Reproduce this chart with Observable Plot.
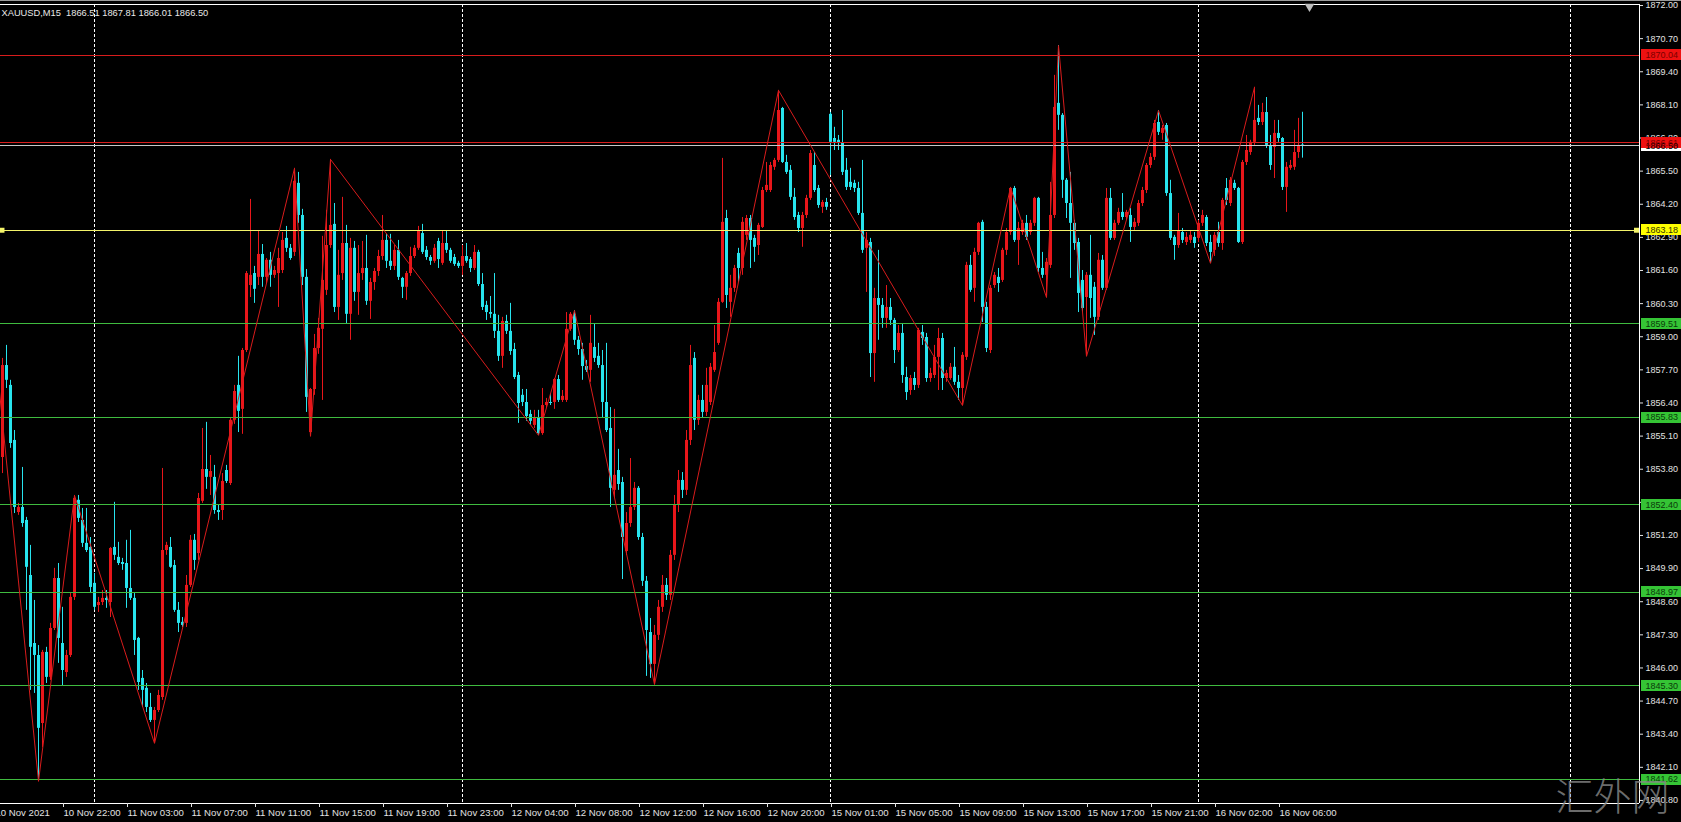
<!DOCTYPE html>
<html><head><meta charset="utf-8">
<script src="https://cdn.jsdelivr.net/npm/d3@7"></script>
<script src="https://cdn.jsdelivr.net/npm/@observablehq/plot@0.6"></script>
<style>
html,body{margin:0;padding:0;background:#000;overflow:hidden;}
#wrap{position:relative;width:1681px;height:822px;overflow:hidden;background:#000;}
#topline{position:absolute;left:0;top:0;width:1681px;height:1px;background:#9a9a9a;}
</style></head>
<body><div id="wrap"><div id="chart"></div><div id="topline"></div></div>
<script>
// ---------------- DATA ----------------
const symbol = "XAUUSD", timeframe = "M15";
const firstBar = -15;   // bar index of the first candle (bar 0 = 10 Nov 22:00, M15 bars)

const opens = [
1854.26,1857.87,1857.09,1854.93,1852.10,1852.30,1851.79,1849.63,1846.96,1846.49,
1843.82,1846.61,1845.63,1847.55,1849.51,1846.96,1845.82,1846.49,1848.77,1852.58,
1851.79,1850.89,1850.73,1849.32,1848.45,1848.57,1848.73,1848.57,1850.73,1850.34,
1850.14,1850.10,1849.12,1848.73,1847.16,1845.59,1845.20,1844.45,1843.94,1844.33,
1844.84,1850.61,1850.73,1850.02,1848.26,1847.79,1847.75,1849.24,1851.01,1850.49,
1852.54,1853.79,1853.48,1853.48,1852.18,1852.18,1853.75,1853.24,1855.72,1857.09,
1856.15,1858.46,1861.01,1861.48,1861.33,1862.23,1861.33,1862.00,1861.41,1861.48,
1861.60,1862.86,1862.47,1862.31,1865.02,1863.76,1861.33,1855.24,1856.93,1858.54,
1859.29,1860.82,1862.58,1863.41,1860.15,1861.48,1862.66,1859.88,1862.47,1860.74,
1861.48,1861.68,1860.39,1861.13,1861.56,1862.15,1862.78,1861.96,1861.76,1862.39,
1861.29,1860.94,1861.48,1862.15,1862.47,1863.05,1862.39,1862.11,1861.96,1862.74,
1861.88,1862.66,1862.39,1862.11,1861.88,1861.76,1862.15,1862.03,1861.68,1862.31,
1861.05,1860.23,1859.95,1859.88,1859.21,1858.23,1859.60,1859.21,1858.50,1857.48,
1856.70,1856.42,1855.95,1855.52,1855.83,1855.20,1856.30,1856.42,1856.42,1857.32,
1856.50,1856.50,1859.29,1859.88,1858.86,1858.50,1857.83,1857.68,1858.58,1858.23,
1857.87,1856.42,1855.40,1852.97,1853.75,1853.28,1850.57,1851.67,1852.30,1853.05,
1851.12,1849.40,1847.39,1846.14,1847.28,1848.38,1849.24,1848.85,1850.42,1852.38,
1853.36,1852.97,1854.93,1858.15,1855.72,1856.50,1856.03,1856.42,1857.68,1858.74,
1860.35,1863.64,1860.35,1860.90,1862.27,1861.68,1862.98,1863.64,1862.86,1862.58,
1863.29,1864.74,1864.74,1865.65,1865.92,1867.96,1865.84,1865.53,1864.47,1863.76,
1863.25,1863.76,1864.43,1865.72,1864.82,1864.08,1864.27,1867.73,1866.78,1866.71,
1866.59,1865.53,1865.06,1865.02,1864.82,1863.84,1862.47,1862.70,1858.34,1860.50,
1860.23,1859.72,1860.15,1859.64,1858.46,1859.13,1857.40,1856.89,1857.36,1857.09,
1859.17,1858.97,1857.36,1857.48,1858.19,1858.93,1857.36,1857.36,1857.80,1857.21,
1856.97,1858.19,1861.80,1860.90,1862.31,1863.49,1860.15,1858.46,1861.01,1861.33,
1861.21,1862.39,1863.09,1864.82,1862.78,1863.09,1863.45,1863.09,1863.45,1864.43,
1861.68,1861.41,1861.80,1863.76,1868.16,1867.69,1865.14,1864.23,1863.45,1862.70,
1861.21,1860.54,1861.41,1860.94,1859.76,1862.00,1860.90,1864.43,1862.86,1863.45,
1863.88,1863.68,1863.76,1863.29,1863.45,1864.23,1864.74,1865.72,1866.04,1867.41,
1866.98,1867.29,1864.62,1862.90,1862.58,1863.09,1862.70,1862.78,1862.90,1862.86,
1863.45,1863.68,1862.70,1862.39,1863.09,1862.66,1864.82,1864.23,1865.02,1864.82,
1862.70,1865.84,1866.23,1866.63,1867.57,1867.41,1867.80,1866.51,1866.43,1866.98,
1866.78,1864.86,1865.61,1865.65,1866.23,1866.51];

const highs = [
1858.15,1858.66,1857.29,1855.32,1852.46,1853.87,1851.91,1850.81,1848.65,1846.88,
1846.69,1846.81,1847.75,1849.91,1850.10,1848.38,1846.69,1848.92,1852.77,1852.77,
1852.26,1852.26,1851.12,1849.71,1848.77,1849.04,1849.04,1850.73,1852.50,1850.93,
1850.30,1851.01,1851.40,1848.92,1847.20,1845.90,1845.39,1845.00,1844.45,1845.12,
1853.83,1850.93,1851.12,1850.22,1848.57,1847.98,1849.63,1851.20,1851.24,1852.85,
1855.40,1855.64,1854.34,1853.95,1852.38,1853.63,1853.95,1855.79,1857.09,1858.23,
1858.54,1861.56,1864.39,1861.76,1863.17,1862.62,1862.07,1862.31,1861.76,1862.47,
1863.09,1863.33,1862.62,1865.61,1865.45,1864.00,1861.64,1856.97,1859.09,1859.72,
1862.94,1863.96,1865.96,1864.23,1862.39,1864.47,1863.37,1862.86,1862.74,1862.58,
1862.74,1862.98,1861.29,1861.68,1862.39,1863.76,1863.02,1863.02,1862.58,1862.78,
1861.33,1861.56,1862.51,1862.58,1863.33,1863.41,1862.54,1862.19,1862.62,1862.86,
1863.13,1863.13,1862.47,1862.23,1861.96,1862.58,1862.66,1862.11,1862.58,1862.39,
1861.48,1860.39,1860.58,1861.48,1859.84,1859.76,1859.84,1860.31,1858.74,1857.60,
1856.93,1856.93,1856.11,1856.11,1856.11,1856.97,1856.58,1856.77,1857.36,1857.48,
1856.89,1859.95,1859.95,1860.03,1859.01,1858.74,1858.07,1859.84,1859.48,1858.74,
1858.46,1858.74,1856.22,1856.15,1854.58,1853.48,1852.10,1854.22,1853.28,1853.12,
1851.28,1849.59,1847.94,1847.67,1848.65,1849.63,1849.51,1850.61,1852.77,1853.75,
1853.67,1855.32,1858.66,1858.38,1856.70,1857.09,1857.76,1857.95,1859.44,1860.50,
1866.00,1863.96,1861.41,1861.80,1862.47,1863.68,1863.76,1863.76,1862.98,1863.45,
1864.86,1865.84,1865.84,1866.00,1868.67,1868.00,1866.12,1865.72,1864.82,1863.88,
1863.88,1864.55,1866.31,1866.23,1864.94,1864.35,1864.43,1867.80,1867.22,1866.90,
1867.88,1866.00,1865.61,1865.14,1865.06,1865.92,1863.09,1862.86,1860.90,1862.39,
1860.50,1861.01,1860.50,1859.72,1859.44,1859.52,1857.80,1857.48,1857.60,1859.33,
1859.44,1859.13,1857.76,1858.66,1859.33,1859.13,1857.68,1857.95,1858.58,1857.48,
1858.38,1861.92,1862.19,1862.47,1863.49,1863.57,1860.35,1861.01,1861.52,1861.68,
1862.47,1863.25,1864.86,1864.90,1863.49,1863.57,1863.76,1863.57,1864.47,1864.47,
1862.31,1862.07,1865.06,1869.26,1870.43,1867.76,1865.21,1865.45,1863.57,1862.86,
1861.60,1861.52,1862.98,1861.13,1862.27,1862.19,1864.82,1864.82,1863.57,1864.04,
1864.62,1863.96,1864.04,1863.64,1864.35,1864.86,1865.80,1866.19,1867.49,1867.88,
1867.29,1867.37,1865.14,1862.98,1863.84,1863.25,1863.09,1863.17,1863.09,1863.57,
1863.96,1863.76,1862.98,1863.09,1863.49,1864.43,1865.21,1865.25,1865.14,1864.86,
1865.92,1866.90,1866.71,1868.79,1868.08,1868.16,1868.39,1866.90,1867.49,1867.49,
1866.82,1865.84,1865.92,1867.10,1867.57,1867.81];

const lows = [
1853.63,1856.97,1854.62,1852.06,1851.99,1851.52,1848.26,1845.12,1845.00,1841.55,
1842.88,1845.39,1845.51,1847.47,1846.18,1845.31,1845.63,1846.41,1848.65,1851.71,
1850.73,1850.53,1848.92,1848.26,1848.18,1848.45,1848.34,1847.98,1850.22,1850.02,
1849.83,1848.34,1848.65,1846.49,1845.12,1844.45,1844.25,1843.86,1843.04,1844.25,
1844.73,1850.42,1849.91,1848.18,1847.39,1847.59,1847.59,1849.16,1849.83,1850.22,
1852.46,1853.01,1852.77,1852.03,1851.79,1851.79,1853.24,1853.16,1855.56,1855.24,
1855.17,1858.38,1860.54,1860.31,1861.01,1860.94,1861.09,1860.94,1861.29,1860.15,
1861.48,1862.31,1862.00,1862.15,1863.45,1861.01,1856.03,1855.09,1856.70,1858.31,
1856.50,1860.62,1862.47,1859.95,1859.64,1861.21,1859.52,1858.86,1860.39,1859.84,
1861.21,1860.23,1859.68,1860.82,1861.37,1862.00,1861.68,1861.60,1861.60,1861.21,
1860.50,1860.43,1861.37,1862.07,1862.39,1862.23,1862.00,1861.80,1861.88,1861.68,
1861.80,1862.27,1861.88,1861.76,1861.68,1861.41,1861.88,1861.52,1861.60,1860.97,
1860.03,1859.64,1859.72,1858.93,1858.03,1857.76,1859.09,1858.27,1857.32,1855.60,
1856.26,1855.68,1855.52,1855.40,1855.13,1855.13,1856.22,1856.30,1856.15,1856.42,
1856.42,1856.42,1859.21,1858.66,1858.27,1857.29,1857.60,1857.21,1857.99,1857.76,
1855.83,1855.24,1852.30,1852.65,1852.97,1849.47,1850.42,1851.52,1852.18,1851.01,
1849.20,1845.67,1845.59,1845.35,1847.08,1848.18,1848.65,1848.65,1850.22,1852.10,
1852.65,1852.77,1854.73,1855.32,1855.52,1855.79,1855.87,1856.30,1857.60,1858.66,
1860.31,1860.11,1859.76,1860.74,1861.13,1861.41,1862.78,1861.68,1861.92,1862.19,
1863.25,1864.66,1864.66,1865.53,1865.84,1865.80,1865.37,1864.35,1863.57,1863.09,
1862.51,1863.64,1864.35,1864.66,1864.04,1863.84,1863.96,1865.33,1866.31,1866.31,
1865.33,1864.74,1864.74,1864.66,1863.76,1862.27,1860.74,1857.40,1857.21,1858.86,
1859.33,1859.33,1859.44,1857.95,1858.38,1857.17,1856.50,1856.70,1856.89,1856.97,
1858.66,1857.21,1857.21,1857.36,1856.89,1856.89,1857.21,1857.29,1857.09,1856.50,
1856.30,1858.07,1860.74,1860.35,1862.19,1859.56,1858.38,1858.34,1860.90,1860.74,
1861.13,1862.19,1862.98,1862.70,1861.80,1862.98,1862.78,1862.98,1863.33,1861.52,
1861.29,1860.54,1861.68,1863.64,1867.10,1864.43,1863.64,1861.29,1862.39,1859.95,
1859.95,1858.23,1859.72,1859.05,1859.64,1860.82,1860.82,1862.78,1862.78,1863.37,
1863.57,1863.57,1862.70,1863.17,1863.33,1864.11,1864.62,1865.61,1865.92,1866.90,
1866.71,1864.51,1862.78,1862.00,1862.47,1862.66,1862.58,1862.66,1862.47,1862.70,
1863.33,1862.54,1861.88,1862.15,1862.51,1862.39,1864.15,1864.11,1864.74,1862.66,
1862.62,1865.72,1866.12,1866.51,1867.29,1867.29,1866.39,1865.53,1865.21,1866.63,
1864.74,1863.88,1865.53,1865.53,1866.00,1866.01];

const closes = [
1857.87,1857.29,1854.81,1852.30,1852.30,1851.67,1849.95,1846.81,1846.49,1843.63,
1846.61,1845.63,1847.55,1849.51,1847.16,1845.90,1846.49,1848.77,1852.65,1851.87,
1850.89,1850.61,1849.16,1848.38,1848.57,1848.73,1848.65,1850.69,1850.42,1850.10,
1850.06,1849.12,1848.73,1847.08,1845.43,1845.12,1844.45,1843.94,1844.33,1844.92,
1850.61,1850.81,1849.95,1848.26,1847.75,1847.67,1849.24,1851.01,1850.22,1852.65,
1853.79,1853.48,1853.71,1852.18,1852.10,1853.32,1853.32,1855.72,1856.85,1856.07,
1858.46,1861.48,1861.41,1860.86,1862.23,1861.33,1862.00,1861.41,1861.60,1862.07,
1862.78,1862.47,1862.07,1865.10,1863.76,1861.33,1856.62,1856.93,1858.54,1859.33,
1861.21,1862.58,1863.37,1860.15,1861.41,1862.66,1859.88,1862.47,1860.74,1861.48,
1861.68,1860.39,1861.13,1861.56,1862.15,1862.78,1861.96,1861.76,1862.39,1861.33,
1860.94,1861.48,1862.15,1862.47,1863.13,1862.31,1862.11,1861.96,1862.47,1862.03,
1862.66,1862.39,1861.96,1861.84,1861.76,1862.15,1861.96,1861.68,1862.31,1861.05,
1860.15,1859.95,1859.88,1859.21,1858.23,1859.60,1859.21,1858.42,1857.40,1856.38,
1856.42,1855.87,1855.68,1855.79,1855.20,1856.30,1856.42,1856.38,1857.32,1856.50,
1856.66,1859.29,1859.88,1858.86,1858.50,1857.83,1857.68,1858.74,1858.15,1857.87,
1856.42,1855.32,1853.05,1853.56,1853.20,1851.12,1851.67,1852.30,1853.05,1851.12,
1849.40,1847.47,1846.14,1847.28,1848.38,1849.24,1848.85,1850.42,1852.38,1853.36,
1852.97,1854.93,1857.87,1855.72,1856.50,1856.03,1857.09,1857.80,1858.38,1860.35,
1863.49,1860.62,1860.90,1861.68,1861.68,1863.49,1863.64,1862.78,1862.51,1863.37,
1864.74,1864.94,1865.72,1865.92,1867.88,1865.84,1865.45,1864.47,1863.68,1863.25,
1863.76,1864.43,1866.19,1864.74,1864.15,1864.27,1864.08,1866.63,1866.63,1866.59,
1865.45,1864.86,1864.86,1864.82,1863.84,1862.39,1862.78,1858.34,1860.50,1860.23,
1859.72,1860.15,1859.64,1858.46,1859.13,1857.48,1856.81,1857.36,1857.09,1859.25,
1858.93,1857.36,1857.56,1858.19,1858.93,1857.36,1857.56,1857.80,1857.21,1856.97,
1858.27,1861.80,1860.82,1862.31,1863.45,1860.15,1858.54,1860.90,1861.41,1861.09,
1862.39,1863.09,1864.82,1862.78,1863.25,1863.45,1862.90,1863.45,1864.43,1861.68,
1861.41,1861.92,1863.76,1868.00,1867.69,1865.14,1864.23,1863.45,1862.66,1860.70,
1860.11,1861.41,1860.50,1859.76,1862.00,1860.90,1864.43,1862.86,1863.45,1863.88,
1863.68,1863.88,1863.29,1863.49,1864.23,1864.74,1865.72,1866.04,1867.37,1867.02,
1867.18,1864.62,1862.86,1862.58,1863.17,1862.78,1862.90,1862.98,1862.66,1863.45,
1863.76,1862.66,1862.31,1862.98,1862.66,1864.35,1864.35,1865.14,1864.82,1862.70,
1865.84,1866.31,1866.63,1867.49,1867.41,1867.80,1866.51,1865.72,1866.98,1866.78,
1864.86,1865.65,1865.72,1866.23,1866.51,1866.50];

// ZigZag pivots (bar index, price)
const zigzagBars   = [-17, -6, 3, 23, 58, 62, 67, 119, 128, 148, 179, 225, 237, 246, 249, 256, 274, 287, 298];
const zigzagPrices = [1858.80,1841.55,1852.77,1843.04,1865.61,1855.09,1865.96,1855.13,1860.03,1845.35,1868.67,1856.30,1864.86,1860.54,1870.43,1858.23,1867.88,1861.88,1868.79];

// Horizontal levels
const redLevels    = [1870.04, 1866.61];
const yellowLevels = [1863.18];
const greenLevels  = [1859.51, 1855.83, 1852.40, 1848.97, 1845.30, 1841.62];

// Axis ticks
const priceTicks = [1872.00,1870.70,1869.40,1868.10,1866.80,1865.50,1864.20,1862.90,1861.60,1860.30,1859.00,1857.70,1856.40,1855.10,1853.80,1852.50,1851.20,1849.90,1848.60,1847.30,1846.00,1844.70,1843.40,1842.10,1840.80];
const timeTickBars   = [-17, 0, 16, 32, 48, 64, 80, 96, 112, 128, 144, 160, 176, 192, 208, 224, 240, 256, 272, 288, 304];
const timeTickLabels = ["10 Nov 2021","10 Nov 22:00","11 Nov 03:00","11 Nov 07:00","11 Nov 11:00","11 Nov 15:00","11 Nov 19:00","11 Nov 23:00","12 Nov 04:00","12 Nov 08:00","12 Nov 12:00","12 Nov 16:00","12 Nov 20:00","15 Nov 01:00","15 Nov 05:00","15 Nov 09:00","15 Nov 13:00","15 Nov 17:00","15 Nov 21:00","16 Nov 02:00","16 Nov 06:00"];
const daySeparatorBars = [8, 100, 192, 284, 377];
const shiftMarkerBar = 311.75;
const watermark = "汇外网";

// ---------------- LAYOUT ----------------
const W = 1681, H = 822, mL = 0, mR = 42, mT = 4, mB = 19;
const xDomain = [-15.5, 394.25];
const yDomain = [1840.68, 1872.04];
const xs = d3.scaleLinear(xDomain, [mL, W - mR]);
const ys = d3.scaleLinear(yDomain, [H - mB, mT]);
const onePx = (yDomain[1] - yDomain[0]) / (H - mT - mB);

const BULL = "#e8161a", BEAR = "#27e4ee";
const RED = "#d81c1c", GREEN = "#3fbb3f", YELLOW = "#f4f46a", BID = "#c8c8c8";

const candles = opens.map((o, i) => {
  const c = closes[i];
  let top = Math.max(o, c), bot = Math.min(o, c);
  if (top - bot < onePx) { const m = (top + bot) / 2; top = m + onePx / 2; bot = m - onePx / 2; }
  return {bar: firstBar + i, o, c, h: Math.max(highs[i], o, c), l: Math.min(lows[i], o, c), top, bot,
          col: c >= o ? BULL : BEAR};
});
const last = candles[candles.length - 1];
const bid = last.c;
const zigzag = zigzagBars.map((b, i) => ({bar: b, price: zigzagPrices[i]}));
const tickLabel = new Map(timeTickBars.map((b, i) => [b, timeTickLabels[i]]));
const header = `${symbol},${timeframe}\u00a0 ${last.o.toFixed(2)} ${last.h.toFixed(2)} ${last.l.toFixed(2)} ${last.c.toFixed(2)}`;

const boxX1 = xs.invert(W - mR + 2), boxX2 = xs.invert(W), boxTextX = xs.invert(W - mR + 6);
const boxes = [
  {p: bid, bg: "#ffffff", fg: "#000000"},
  ...greenLevels.map(p => ({p, bg: "#35c435", fg: "#0a3a0a"})),
  ...yellowLevels.map(p => ({p, bg: "#ffff00", fg: "#333300"})),
  ...redLevels.map(p => ({p, bg: "#ee1111", fg: "#7a0000"}))
];
const boxY1 = d => ys.invert(ys(d.p) + 5.5), boxY2 = d => ys.invert(ys(d.p) - 5.5);

const chart = Plot.plot({
  width: W, height: H,
  marginLeft: mL, marginRight: mR, marginTop: mT, marginBottom: mB,
  style: {background: "#000", color: "#e2e2e2", fontFamily: "'Liberation Sans', Arial, sans-serif", fontSize: "9px"},
  x: {type: "linear", domain: xDomain},
  y: {type: "linear", domain: yDomain},
  color: {type: "identity"},
  marks: [
    // day separators
    Plot.ruleX(daySeparatorBars, {stroke: "#ffffff", strokeDasharray: "3,2"}),
    // candles
    Plot.ruleX(candles, {x: "bar", y1: "l", y2: "h", stroke: "col", strokeWidth: 1}),
    Plot.ruleX(candles, {x: "bar", y1: "bot", y2: "top", stroke: "col", strokeWidth: 3, strokeLinecap: "butt"}),
    // horizontal levels
    Plot.ruleY(greenLevels, {stroke: GREEN, shapeRendering: "crispEdges"}),
    Plot.ruleY(yellowLevels, {stroke: YELLOW, shapeRendering: "crispEdges"}),
    Plot.ruleY([bid], {stroke: BID, shapeRendering: "crispEdges"}),
    Plot.ruleY(redLevels, {stroke: RED, shapeRendering: "crispEdges"}),
    Plot.dot(yellowLevels, {x: xs.invert(1.5), y: d => d, symbol: "square", r: 2.8, fill: YELLOW}),
    Plot.dot(yellowLevels, {x: xs.invert(W - mR - 3), y: d => d, symbol: "square", r: 2.8, fill: YELLOW}),
    // zigzag
    Plot.line(zigzag, {x: "bar", y: "price", stroke: RED, strokeWidth: 1, clip: true}),
    // frame lines (top, bottom, right)
    Plot.ruleY([yDomain[1]], {stroke: "#ffffff"}),
    Plot.ruleY([yDomain[0]], {stroke: "#ffffff"}),
    Plot.ruleX([xDomain[1]], {stroke: "#ffffff"}),
    // axes
    Plot.axisY(priceTicks, {anchor: "right", tickSize: 3, tickPadding: 3, tickFormat: d => d.toFixed(2), fontSize: 9, label: null}),
    Plot.axisX(timeTickBars, {anchor: "bottom", tickSize: 4, tickPadding: 2, tickFormat: d => tickLabel.get(d), textAnchor: "start", dx: 1, fontSize: 9.6, label: null}),
    // price labels on the axis
    Plot.rect(boxes, {x1: boxX1, x2: boxX2, y1: boxY1, y2: boxY2, fill: "bg", shapeRendering: "crispEdges"}),
    Plot.text(boxes, {x: boxTextX, y: "p", text: d => d.p.toFixed(2), fill: "fg", textAnchor: "start", fontSize: 9}),
    // header
    Plot.text([header], {frameAnchor: "top-left", dx: 1, dy: 9, textAnchor: "start", lineAnchor: "middle", fill: "#e8e8e8", fontSize: 9.3}),
    // chart shift marker
    Plot.dot([shiftMarkerBar], {x: d => d, frameAnchor: "top", dy: 2, symbol: "triangle", rotate: 180, r: 3.6, fill: "#bdbdbd"}),
    // watermark
    Plot.text([watermark], {frameAnchor: "bottom-right", dx: -27, dy: -6, textAnchor: "middle", lineAnchor: "middle",
      fontSize: 38, fill: "#8a8a8a", fillOpacity: 0.8, fontFamily: "'Noto Sans CJK SC', sans-serif", fontWeight: 300})
  ]
});
document.getElementById("chart").appendChild(chart);
</script>
</body></html>
